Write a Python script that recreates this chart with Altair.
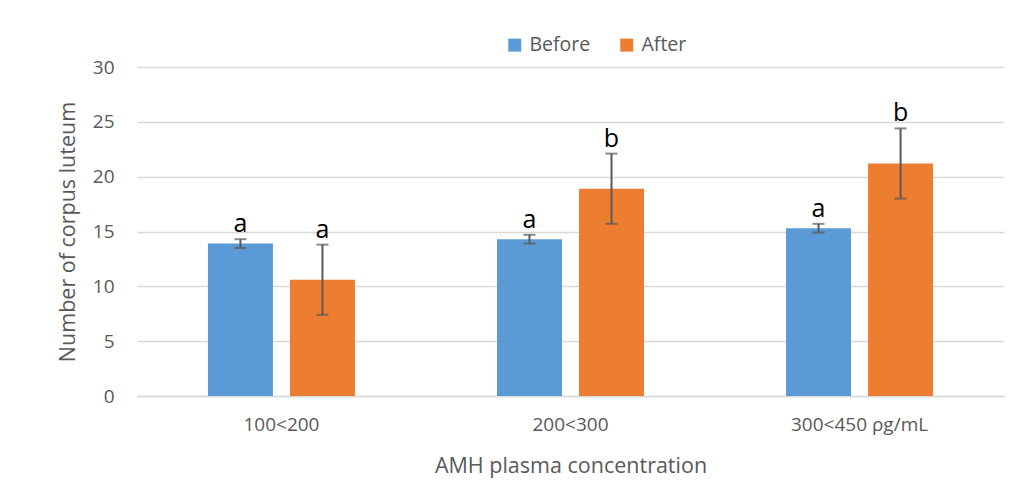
import altair as alt
import pandas as pd

groups = ["100<200", "200<300", "300<450 ρg/mL"]
series = ["Before", "After"]
before_vals = [13.9, 14.3, 15.3]
after_vals = [10.6, 18.9, 21.2]
before_err = [0.4, 0.4, 0.4]
after_err = [3.2, 3.2, 3.2]
before_letters = ["a", "a", "a"]
after_letters = ["a", "b", "b"]

rows = []
for i, g in enumerate(groups):
    rows.append({"group": g, "series": "Before", "value": before_vals[i],
                 "lo": before_vals[i] - before_err[i], "hi": before_vals[i] + before_err[i],
                 "letter": before_letters[i]})
    rows.append({"group": g, "series": "After", "value": after_vals[i],
                 "lo": after_vals[i] - after_err[i], "hi": after_vals[i] + after_err[i],
                 "letter": after_letters[i]})
df = pd.DataFrame(rows)

FONT = "Open Sans"
GRAY = "#595959"

x = alt.X("group:N", sort=groups,
          scale=alt.Scale(paddingInner=0.4325, paddingOuter=0.216),
          axis=alt.Axis(title="AMH plasma concentration", labelAngle=0, ticks=False,
                        domainColor="#d9d9d9", domainWidth=1.5, grid=False,
                        labelFontSize=19, labelColor=GRAY, labelFont=FONT, labelPadding=19,
                        titleFontSize=21.5, titleColor=GRAY, titleFont=FONT, titleFontWeight="normal",
                        titlePadding=21))
xo = alt.XOffset("series:N", sort=series, scale=alt.Scale(paddingInner=0, paddingOuter=0))

base = alt.Chart(df)

bars = base.mark_bar(width=65).encode(
    x=x,
    xOffset=xo,
    y=alt.Y("value:Q", scale=alt.Scale(domain=[0, 30]),
            axis=alt.Axis(title="Number of corpus luteum", values=[0, 5, 10, 15, 20, 25, 30],
                          domain=False, ticks=False, gridColor="#d9d9d9", gridWidth=1.5,
                          labelFontSize=19, labelColor=GRAY, labelFont=FONT, labelPadding=23,
                          titleFontSize=21.5, titleColor=GRAY, titleFont=FONT,
                          titleFontWeight="normal", titlePadding=13)),
    color=alt.Color("series:N", sort=series,
                    scale=alt.Scale(domain=series, range=["#5B9BD5", "#ED7D31"]),
                    legend=alt.Legend(title=None, orient="none", direction="horizontal",
                                      legendX=368, legendY=-32, padding=0,
                                      symbolType="square", symbolSize=169, symbolStrokeWidth=0,
                                      labelFontSize=19.5, labelFont=FONT, labelColor=GRAY,
                                      labelOffset=5, columnPadding=26)),
)

rules = base.mark_rule(color=GRAY, strokeWidth=2).encode(
    x=x, xOffset=xo, y="lo:Q", y2="hi:Q")
caps_hi = base.mark_tick(color=GRAY, thickness=2, size=12).encode(
    x=x, xOffset=xo, y="hi:Q")
caps_lo = base.mark_tick(color=GRAY, thickness=2, size=12).encode(
    x=x, xOffset=xo, y="lo:Q")
letters = base.mark_text(fontSize=25, font=FONT, color="black", baseline="alphabetic", dy=-7).encode(
    x=x, xOffset=xo, y="hi:Q", text="letter:N")

chart = alt.layer(bars, rules, caps_hi, caps_lo, letters).properties(
    width=867, height=329,
    background="white",
    autosize=alt.AutoSizeParams(type="none"),
    padding={"left": 129, "top": 59, "right": 10, "bottom": 92},
).configure_view(stroke="transparent", strokeWidth=0)

chart.save("out.html", embed_options={"renderer": "svg", "actions": False})
